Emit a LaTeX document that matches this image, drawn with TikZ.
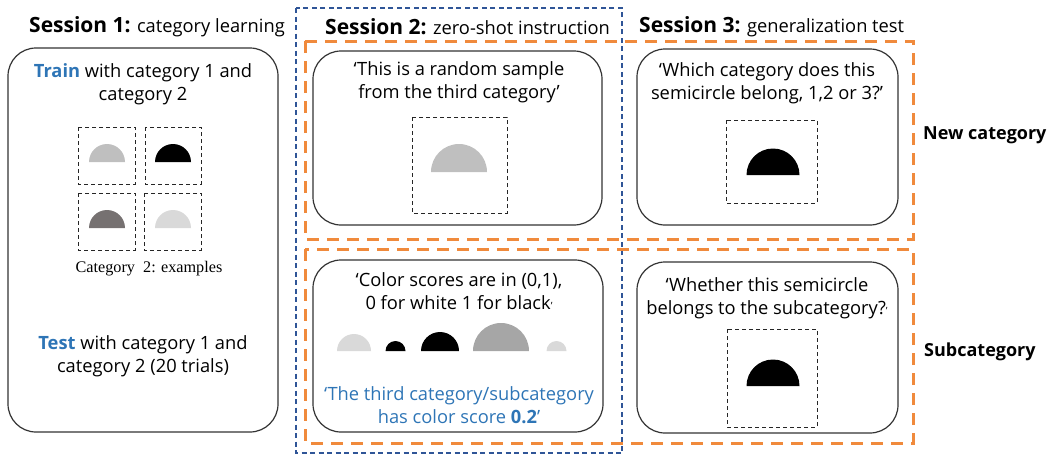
\documentclass[tikz,border=0pt]{standalone}
\usepackage{fontspec}
\setmainfont{Open Sans}
\newfontfamily\serifcap{Liberation Serif}
\definecolor{tblue}{HTML}{2E75B6}
\definecolor{dblue}{HTML}{2F5597}
\definecolor{orng}{HTML}{F08A3C}
\definecolor{gA}{HTML}{BFBFBF}
\definecolor{gB}{HTML}{767171}
\definecolor{gC}{HTML}{D9D9D9}
\definecolor{gD}{HTML}{A6A6A6}
\tikzset{
  panel/.style={draw=black!80, line width=1.2pt, rounded corners=28pt},
  smallsq/.style={draw=black!85, line width=1pt, dash pattern=on 4pt off 3pt},
  obox/.style={draw=orng, line width=3pt, dash pattern=on 12pt off 8pt},
  bbox/.style={draw=dblue, line width=1.5pt, dash pattern=on 5pt off 3.5pt},
  body/.style={align=center, font=\fontsize{18.3}{23}\selectfont, inner sep=0pt},
  title/.style={anchor=west, inner sep=0pt, font=\fontsize{18.3}{20}\selectfont},
  side/.style={anchor=west, inner sep=0pt, font=\fontsize{18}{22}\selectfont\bfseries},
}
\newcommand{\semi}[4]{\fill[#4] (#1-#3,#2) arc (180:360:#3) -- cycle;}
\begin{document}
\begin{tikzpicture}[x=1pt,y=-1pt]
\useasboundingbox (0,0) rectangle (1053,455);
% outer dashed frames
\draw[bbox] (296,8) rectangle (622,453);
\draw[obox] (305,41) rectangle (913,239);
\draw[obox] (305,249) rectangle (913,443);
% titles
\node[title] (t1) at (29,27) {{\fontsize{21}{24}\selectfont\bfseries Session 1:} category learning};
\node[title] (t2) at (325,27) {{\fontsize{21}{24}\selectfont\bfseries Session 2:} zero-shot instruction};
\node[title] (t3) at (639,27) {{\fontsize{21}{24}\selectfont\bfseries Session 3:} generalization test};
% Session 1 panel
\draw[panel] (8,48) rectangle (278,432);
\node[body] (s1a) at (143,84) {{\color{tblue}\bfseries Train} with category 1 and\\category 2};
\draw[smallsq] (78,127) rectangle (135,184);
\draw[smallsq] (145,127) rectangle (201,184);
\draw[smallsq] (78,193) rectangle (135,250);
\draw[smallsq] (144,193) rectangle (201,250);
\semi{107}{162}{18}{gA}
\semi{173}{162}{18}{black}
\semi{107}{228}{18}{gB}
\semi{173}{228}{18}{gC}
\node[inner sep=0pt, font=\serifcap\fontsize{16.2}{18}\selectfont] (cap) at (149,269) {Category\ \ 2: examples};
\node[body] (s1b) at (143,356) {{\color{tblue}\bfseries Test} with category 1 and\\category 2 (20 trials)};
% Session 2 top
\draw[panel] (313,51) rectangle (602,225);
\node[body] (s2a) at (459,82) {‘This is a random sample\\from the third category’};
\draw[smallsq] (412,117) rectangle (507,213);
\semi{459}{172}{28}{gA}
% Session 2 bottom
\draw[panel] (313,260) rectangle (603,432);
\node[body] (s2b) at (459,291) {‘Color scores are in (0,1),\\0 for white 1 for black{\fontsize{10}{10}\selectfont’}};
\semi{354}{351}{17}{gC}
\semi{395.5}{351}{10}{black}
\semi{440}{351}{19}{black}
\semi{501}{351}{28}{gD}
\semi{556.5}{351}{10}{gC}
\node[body, text=tblue] (s2c) at (459,405) {‘The third category/subcategory\\has color score {\bfseries 0.2}’};
% Session 3 top
\draw[panel] (637,49) rectangle (898,225);
\node[body] (s3a) at (767,83) {‘Which category does this\\semicircle belong, 1,2 or 3?’};
\draw[smallsq] (726,120) rectangle (817,203);
\semi{773}{175}{26.5}{black}
\node[side] (nc) at (923,135) {New category};
% Session 3 bottom
\draw[panel] (637,262) rectangle (898,433);
\node[body] (s3b) at (767,298) {‘Whether this semicircle\\belongs to the subcategory?{\fontsize{10}{10}\selectfont’}};
\draw[smallsq] (727,329) rectangle (817,427);
\semi{773}{386}{26.5}{black}
\node[side] (sc) at (924,352) {Subcategory};
\end{tikzpicture}
\end{document}
